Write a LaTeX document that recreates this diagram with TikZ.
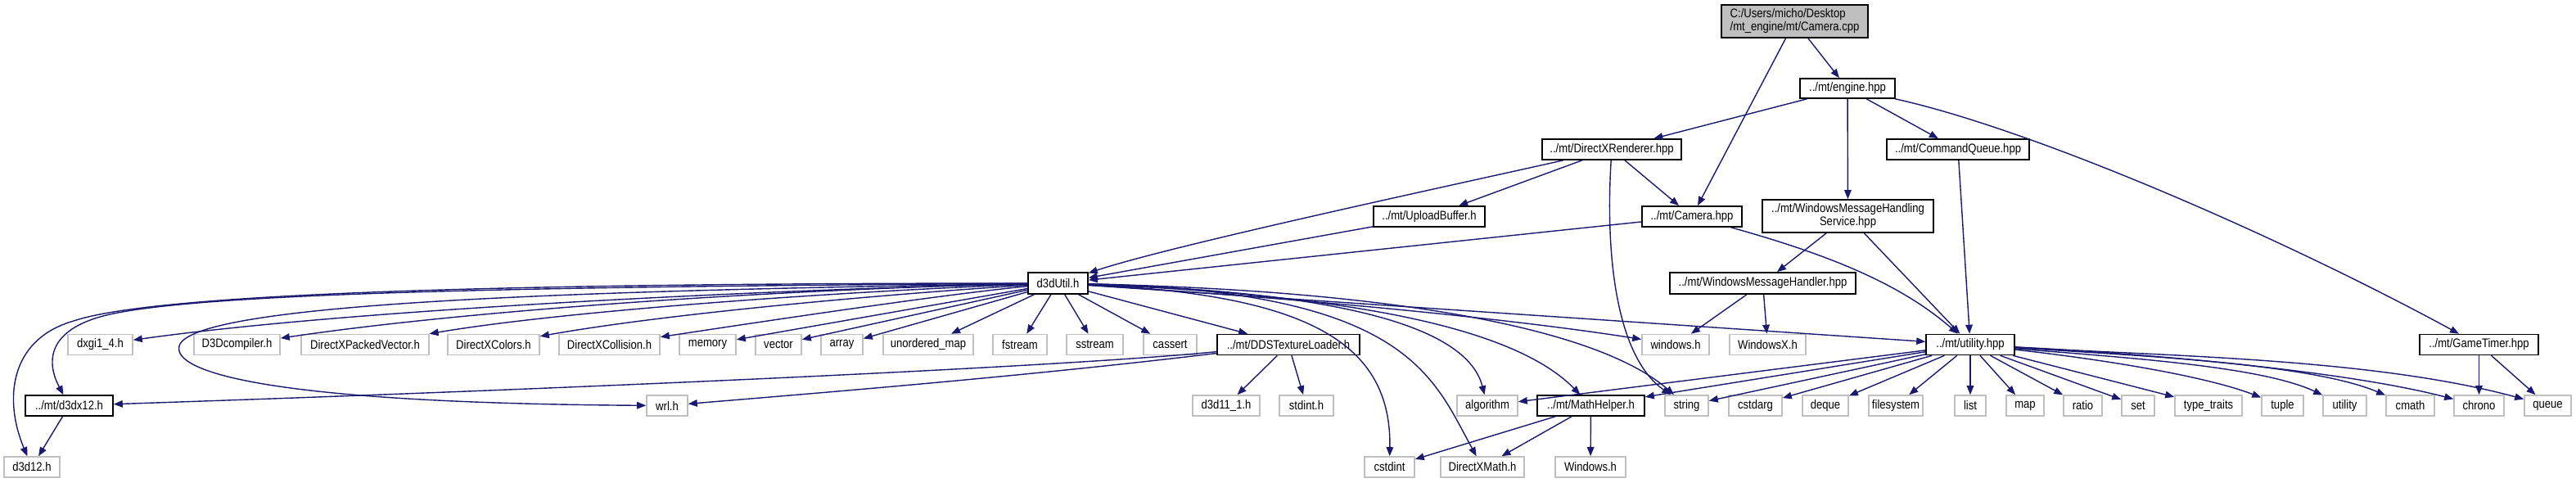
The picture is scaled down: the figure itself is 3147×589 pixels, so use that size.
\documentclass[tikz,border=0pt]{standalone}
\usepackage{fontspec}
\setmainfont{Liberation Sans}[FakeStretch=0.86]
\usetikzlibrary{arrows.meta}
\definecolor{edgeblue}{HTML}{191970}
\definecolor{extgray}{HTML}{BFBFBF}
\begin{document}
\begin{tikzpicture}[x=1pt,y=-1pt,
  box/.style={rectangle, inner sep=0pt, line width=1.6pt, minimum height=25pt, font=\fontsize{15.2}{16}\selectfont, text=black},
  doc/.style={box, draw=black, fill=white},
  ext/.style={box, draw=extgray, fill=white},
  rootbox/.style={box, draw=black, fill=extgray},
  bw/.style={minimum width=#1pt},
  edge/.style={draw=edgeblue, line width=1.4pt, -{Triangle[length=11pt,width=8.5pt]}}
]
\useasboundingbox (0,0) rectangle (3147,589);
% rows 0-4
\node[rootbox, bw=179, minimum height=40pt, align=left] (root) at (2192.5,26) {C:/Users/micho/Desktop\\/mt\_engine/mt/Camera.cpp};
\node[doc, bw=116, minimum height=24pt] (engine) at (2257,108) {../mt/engine.hpp};
\node[doc, bw=170] (dxr) at (1969,182.5) {../mt/DirectXRenderer.hpp};
\node[doc, bw=174] (cmdq) at (2392,182.5) {../mt/CommandQueue.hpp};
\node[doc, bw=136] (upload) at (1746,264.5) {../mt/UploadBuffer.h};
\node[doc, bw=122] (camhpp) at (2067,264.5) {../mt/Camera.hpp};
\node[doc, bw=209, minimum height=40pt, align=center] (wmhs) at (2257.5,264) {../mt/WindowsMessageHandling\\Service.hpp};
\node[doc, bw=73, minimum height=26pt] (d3dutil) at (1292.5,346) {d3dUtil.h};
\node[doc, bw=227, minimum height=26pt] (wmh) at (2153.5,346) {../mt/WindowsMessageHandler.hpp};
% row 5
\node[ext, bw=79] (dxgi) at (122.5,421) {dxgi1\_4.h};
\node[ext, bw=105] (d3dcomp) at (289.5,421) {D3Dcompiler.h};
\node[ext, bw=156] (dxpv) at (446,421) {DirectXPackedVector.h};
\node[ext, bw=112] (dxcolors) at (603,421) {DirectXColors.h};
\node[ext, bw=123] (dxcoll) at (744.5,421) {DirectXCollision.h};
\node[ext, bw=69] (memory) at (864.5,421) {memory};
\node[ext, bw=56] (vector) at (951,421) {vector};
\node[ext, bw=51] (array) at (1028.5,421) {array};
\node[ext, bw=110] (umap) at (1134,421) {unordered\_map};
\node[ext, bw=66] (fstream) at (1246,421) {fstream};
\node[ext, bw=69] (sstream) at (1337.5,421) {sstream};
\node[ext, bw=65] (cassert) at (1429.5,421) {cassert};
\node[doc, bw=174] (dds) at (1574,421) {../mt/DDSTextureLoader.h};
\node[ext, bw=82] (windowsh) at (2047,421) {windows.h};
\node[ext, bw=93] (windowsx) at (2159.5,421) {WindowsX.h};
\node[doc, bw=108] (utilhpp) at (2407,421) {../mt/utility.hpp};
\node[doc, bw=145] (gametimer) at (3028.5,421) {../mt/GameTimer.hpp};
% row 6
\node[doc, bw=107] (d3dx12) at (84.5,495.5) {../mt/d3dx12.h};
\node[ext, bw=50] (wrl) at (815,495.5) {wrl.h};
\node[ext, bw=82] (d3d11) at (1498,495.5) {d3d11\_1.h};
\node[ext, bw=66] (stdint) at (1596,495.5) {stdint.h};
\node[ext, bw=74] (algorithm) at (1817,495.5) {algorithm};
\node[doc, bw=131] (mathhelper) at (1943.5,495.5) {../mt/MathHelper.h};
\node[ext, bw=53] (string) at (2060.5,495.5) {string};
\node[ext, bw=65] (cstdarg) at (2144.5,495.5) {cstdarg};
\node[ext, bw=56] (deque) at (2230,495.5) {deque};
\node[ext, bw=66] (filesystem) at (2316,495.5) {filesystem};
\node[ext, bw=38] (list) at (2407,495.5) {list};
\node[ext, bw=46] (map) at (2474,495.5) {map};
\node[ext, bw=47] (ratio) at (2544.5,495.5) {ratio};
\node[ext, bw=40] (set) at (2612,495.5) {set};
\node[ext, bw=82] (typetraits) at (2698,495.5) {type\_traits};
\node[ext, bw=51] (tuple) at (2788.5,495.5) {tuple};
\node[ext, bw=53] (utility) at (2864.5,495.5) {utility};
\node[ext, bw=59] (cmath) at (2944.5,495.5) {cmath};
\node[ext, bw=61] (chrono) at (3028.5,495.5) {chrono};
\node[ext, bw=57] (queue) at (3112.5,495.5) {queue};
% row 7
\node[ext, bw=68] (d3d12) at (39,570.5) {d3d12.h};
\node[ext, bw=61] (cstdint) at (1697.5,570.5) {cstdint};
\node[ext, bw=102] (dxmath) at (1811,570.5) {DirectXMath.h};
\node[ext, bw=86] (windowsH) at (1943,570.5) {Windows.h};
% edges
\draw[edge] (root) -- (engine);
\draw[edge] (root) -- (camhpp);
\draw[edge] (engine) -- (dxr);
\draw[edge] (engine) -- (cmdq);
\draw[edge] (engine) -- (wmhs);
\draw[edge] (engine) .. controls (2480,157) and (2780,286) .. (gametimer);
\draw[edge] (dxr) .. controls (1780,225) and (1430,300) .. (d3dutil);
\draw[edge] (dxr) -- (upload);
\draw[edge] (dxr) -- (camhpp);
\draw[edge] (dxr) .. controls (1960,330) and (1980,440) .. (string);
\draw[edge] (upload) -- (d3dutil);
\draw[edge] (camhpp) -- (d3dutil);
\draw[edge] (camhpp) .. controls (2230,310) and (2320,345) .. (utilhpp);
\draw[edge] (cmdq) -- (utilhpp);
\draw[edge] (wmhs) -- (wmh);
\draw[edge] (wmhs) -- (utilhpp);
\draw[edge] (wmh) -- (windowsh);
\draw[edge] (wmh) -- (windowsx);
% d3dUtil left
\draw[edge] (d3dutil) .. controls (700,346) and (200,355) .. (90,392) .. controls (10,415) and (5,490) .. (d3d12);
\draw[edge] (d3dutil) .. controls (700,350) and (250,356) .. (130,385) .. controls (60,402) and (55,440) .. (d3dx12);
\draw[edge] (d3dutil) .. controls (1000,352) and (450,375) .. (dxgi);
\draw[edge] (d3dutil) .. controls (1000,352) and (600,375) .. (d3dcomp);
\draw[edge] (d3dutil) .. controls (1050,355) and (700,378) .. (dxpv);
\draw[edge] (d3dutil) .. controls (1100,358) and (820,382) .. (dxcolors);
\draw[edge] (d3dutil) .. controls (1150,360) and (950,390) .. (dxcoll);
\draw[edge] (d3dutil) -- (memory);
\draw[edge] (d3dutil) -- (vector);
\draw[edge] (d3dutil) -- (array);
\draw[edge] (d3dutil) -- (umap);
\draw[edge] (d3dutil) -- (fstream);
\draw[edge] (d3dutil) -- (sstream);
\draw[edge] (d3dutil) -- (cassert);
\draw[edge] (d3dutil) -- (dds);
\draw[edge] (d3dutil) .. controls (700,355) and (250,370) .. (220,420) .. controls (205,450) and (300,492) .. (wrl);
% d3dUtil right
\draw[edge] (d3dutil) .. controls (1600,365) and (1850,390) .. (windowsh);
\draw[edge] (d3dutil) -- (utilhpp);
\draw[edge] (d3dutil) .. controls (1600,355) and (1790,390) .. (algorithm);
\draw[edge] (d3dutil) .. controls (1650,360) and (1850,400) .. (mathhelper);
\draw[edge] (d3dutil) .. controls (1700,355) and (1950,400) .. (string);
\draw[edge] (d3dutil) .. controls (1600,360) and (1700,420) .. (cstdint);
\draw[edge] (d3dutil) .. controls (1720,355) and (1750,460) .. (dxmath);
% DDSTextureLoader
\draw[edge] (dds) .. controls (1300,448) and (700,475) .. (d3dx12);
\draw[edge] (dds) .. controls (1250,460) and (1000,480) .. (wrl);
\draw[edge] (dds) -- (d3d11);
\draw[edge] (dds) -- (stdint);
\draw[edge] (d3dx12) -- (d3d12);
% utility.hpp
\draw[edge] (utilhpp) -- (algorithm);
\draw[edge] (utilhpp) -- (mathhelper);
\draw[edge] (utilhpp) -- (string);
\draw[edge] (utilhpp) -- (cstdarg);
\draw[edge] (utilhpp) -- (deque);
\draw[edge] (utilhpp) -- (filesystem);
\draw[edge] (utilhpp) -- (list);
\draw[edge] (utilhpp) -- (map);
\draw[edge] (utilhpp) -- (ratio);
\draw[edge] (utilhpp) -- (set);
\draw[edge] (utilhpp) -- (typetraits);
\draw[edge] (utilhpp) .. controls (2560,438) and (2690,458) .. (tuple);
\draw[edge] (utilhpp) .. controls (2580,436) and (2760,446) .. (utility);
\draw[edge] (utilhpp) .. controls (2600,434) and (2820,443) .. (cmath);
\draw[edge] (utilhpp) .. controls (2620,432) and (2860,452) .. (chrono);
\draw[edge] (utilhpp) .. controls (2650,435) and (2900,438) .. (queue);
% GameTimer, MathHelper
\draw[edge] (gametimer) -- (chrono);
\draw[edge] (gametimer) -- (queue);
\draw[edge] (mathhelper) -- (cstdint);
\draw[edge] (mathhelper) -- (dxmath);
\draw[edge] (mathhelper) -- (windowsH);
\end{tikzpicture}
\end{document}
